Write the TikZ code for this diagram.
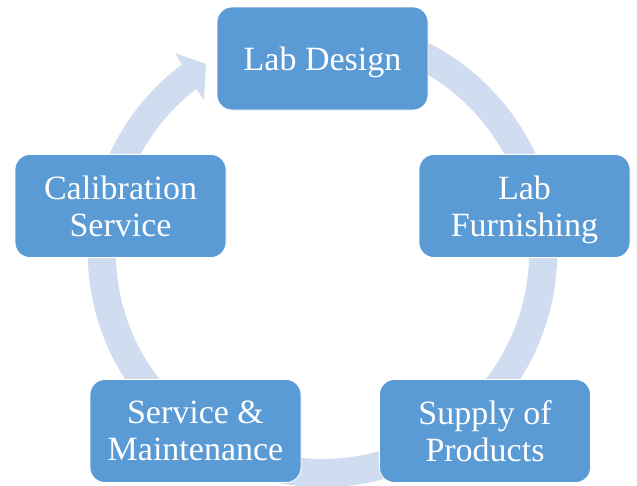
\documentclass[tikz,border=0pt]{standalone}
\usepackage{fontspec}
\setmainfont{Liberation Serif}
\definecolor{stageblue}{HTML}{5B9BD5}
\definecolor{ringblue}{HTML}{D0DCEF}
\begin{document}
\begin{tikzpicture}[x=1pt,y=-1pt,
  stage/.style={draw=white, line width=0.8pt, fill=stageblue, rounded corners=15pt,
    minimum width=211pt, minimum height=103pt, inner sep=0pt, text depth=0pt,
    text=white, align=center, font=\fontsize{34}{37}\selectfont}]
\useasboundingbox (0,0) rectangle (637,485);
\coordinate (hub) at (322.5,252.4);
\fill[ringblue] ([shift={(-80:234.7)}]hub) arc[start angle=-80, end angle=233.2, radius=234.7]
  -- ([shift={(233.5:248)}]hub) -- ([shift={(238.3:221.5)}]hub)
  -- ([shift={(232.1:193)}]hub) -- ([shift={(232.4:206.6)}]hub)
  arc[start angle=232.4, end angle=-80, radius=206.6] -- cycle;
\node[stage] (design) at (322.5,58.5){Lab Design};
\node[stage] (furnish) at (524.5,206){Lab\\Furnishing};
\node[stage] (supply) at (485,431){Supply of\\Products};
\node[stage] (service) at (195.5,431){Service \&\\Maintenance};
\node[stage] (calib) at (120.5,206){Calibration\\Service};
\end{tikzpicture}
\end{document}
